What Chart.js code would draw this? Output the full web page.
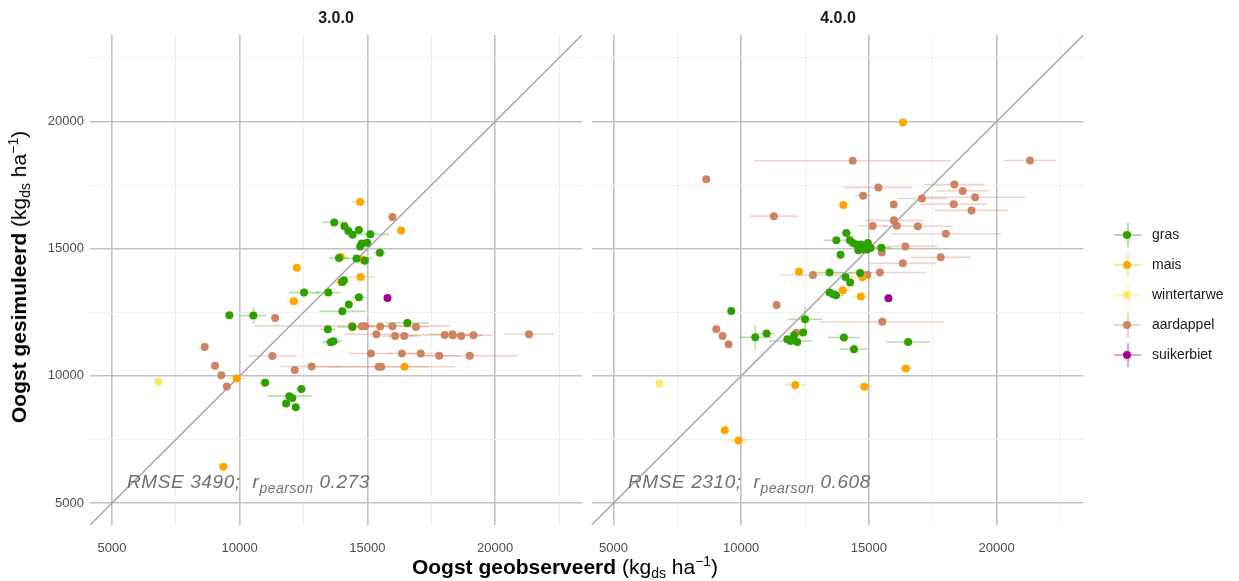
<!DOCTYPE html>
<html>
<head>
<meta charset="utf-8">
<script src="https://cdn.jsdelivr.net/npm/chart.js@4.4.1/dist/chart.umd.min.js"></script>
<style>
body{margin:0;background:#fff;font-family:"Liberation Sans",Arial,sans-serif;}
#wrap{position:relative;width:1239px;height:581px;overflow:hidden;}
canvas{position:absolute;left:0;top:0;}
.strip{position:absolute;top:9px;font-weight:bold;font-size:16px;color:#1a1a1a;transform:translateX(-50%);}
.stat{position:absolute;top:471px;font-style:italic;font-size:19px;color:#707070;letter-spacing:0.6px;white-space:nowrap;}
.stat sub{font-size:14px;vertical-align:-5px;letter-spacing:0.5px;}
.ytitle{position:absolute;left:19px;top:277px;transform:translate(-50%,-50%) rotate(-90deg);white-space:nowrap;font-size:21px;color:#000;}
.xtitle{position:absolute;left:565px;top:567px;transform:translate(-50%,-50%);white-space:nowrap;font-size:21px;color:#000;}
.ytitle b,.xtitle b{font-weight:bold;}
.ytitle sub,.xtitle sub{font-size:14px;vertical-align:-4px;}
.ytitle sup,.xtitle sup{font-size:14px;vertical-align:8px;}
.leg{position:absolute;left:1112px;height:24px;width:130px;}
.leg .h{position:absolute;left:2px;top:11px;width:27px;height:2px;}
.leg .v{position:absolute;left:14.5px;top:0;width:2px;height:24px;}
.leg .d{position:absolute;left:11px;top:8px;width:8px;height:8px;border-radius:50%;}
.leg span{position:absolute;left:40px;top:3px;font-size:14px;color:#1a1a1a;}
</style>
</head>
<body>
<div id="wrap">
  <canvas id="c300" width="1239" height="581"></canvas>
  <canvas id="c400" width="1239" height="581"></canvas>
  <div class="strip" style="left:336px">3.0.0</div>
  <div class="strip" style="left:838px">4.0.0</div>
  <div class="stat" style="left:127px">RMSE 3490;&nbsp; r<sub>pearson</sub> 0.273</div>
  <div class="stat" style="left:628px">RMSE 2310;&nbsp; r<sub>pearson</sub> 0.608</div>
  <div class="ytitle"><b>Oogst gesimuleerd</b> (kg<sub>ds</sub> ha<sup>−1</sup>)</div>
  <div class="xtitle"><b>Oogst geobserveerd</b> (kg<sub>ds</sub> ha<sup>−1</sup>)</div>
  <div id="legend"></div>
</div>
<script>
// [geobserveerd, gesimuleerd, xfout, yfout] per gewas en versie
const gras300 = [
  [13700,16035,470,0],[14100,15880,0,0],[14255,15695,0,0],[14420,15550,0,0],
  [14665,15740,0,0],[15115,15565,740,0],[14715,15090,0,0],[14775,15200,0,0],
  [14990,15230,0,0],[15485,14845,235,0],[13885,14635,390,0],[14575,14615,600,0],
  [14900,14530,0,0],[14080,13760,0,0],[14020,13690,0,0],[12520,13275,590,160],
  [13470,13275,490,0],[14665,13090,270,0],[14270,12805,0,0],[14020,12540,900,0],
  [9595,12385,0,0],[10535,12370,490,330],[16565,12080,850,160],[14415,11925,580,0],
  [13450,11835,290,0],[13565,11325,330,0],[13670,11365,330,0],[10995,9735,240,0],
  [12415,9490,200,0],[11945,9205,860,0],[12060,9135,0,0],[11815,8915,160,0],
  [12195,8770,0,0]
];
const mais300 = [
  [14715,16840,310,0],[16320,15720,0,0],[12235,14255,0,0],[13960,14670,0,0],
  [14805,14580,0,0],[14735,13885,550,0],[13980,13680,310,0],[12115,12935,270,0],
  [9885,9900,390,0],[16450,10360,200,0],[9360,6430,0,0]
];
const wintertarwe300 = [[6815,9780,0,0]];
const aardappel300 = [
  [15980,16245,0,0],[11385,12280,0,0],[14390,11965,3840,0],[14780,11950,470,0],
  [14910,11950,390,0],[15500,11940,590,0],[15980,11950,550,0],[16900,11925,470,0],
  [15350,11640,1250,0],[16085,11570,780,0],[16440,11570,590,0],[18025,11605,1500,0],
  [18330,11640,980,0],[18345,11600,0,0],[18670,11570,780,0],[19150,11600,740,0],
  [21325,11640,980,0],[8630,11140,0,0],[11280,10785,940,0],[15135,10880,860,0],
  [16350,10880,590,0],[17085,10880,700,0],[17810,10795,780,0],[19005,10795,1880,0],
  [9035,10395,0,0],[12155,10235,0,0],[12815,10370,1210,0],[15440,10360,1960,0],
  [15535,10360,2900,0],[9280,10030,0,0],[9495,9585,0,0]
];
const suikerbiet300 = [[15785,13060,0,0]];

const gras400 = [
  [14115,15615,200,0],[13725,15330,510,0],[14255,15330,0,0],[14375,15220,0,0],
  [14505,15170,0,0],[14675,15170,0,0],[14805,15065,0,0],[14960,15220,0,0],
  [14585,14935,0,0],[14715,14965,0,0],[14830,15000,0,0],[14935,14965,0,0],
  [15065,15025,0,0],[15485,15040,390,0],[13890,14765,0,0],[13460,14060,590,0],
  [14655,14045,470,0],[14085,13885,0,0],[14265,13670,0,0],[13460,13275,0,0],
  [13605,13210,0,0],[13710,13170,310,0],[9610,12550,0,0],[12500,12225,670,470],
  [10995,11665,310,0],[10550,11520,630,470],[12425,11705,0,0],[11805,11440,0,0],
  [11935,11375,860,0],[12070,11600,0,0],[12195,11335,0,0],[14020,11510,630,0],
  [14415,11050,550,200],[16535,11335,860,0]
];
const mais400 = [
  [16330,19960,0,0],[14000,16720,235,0],[12260,14090,0,0],[14745,13875,470,0],
  [13980,13365,310,0],[14685,13120,310,0],[16445,10290,235,0],[12115,9645,390,0],
  [14820,9575,310,0],[9355,7860,0,0],[9895,7465,390,0]
];
const wintertarwe400 = [[6800,9700,0,0]];
const aardappel400 = [
  [8630,17735,0,0],[14365,18455,3850,0],[21305,18470,1020,0],[11280,16280,940,0],
  [18345,17525,1180,0],[18670,17270,1020,0],[15370,17410,1330,0],[14775,17085,310,0],
  [17075,16975,980,0],[19160,17025,1960,0],[15970,16740,0,0],[18320,16750,1330,0],
  [19015,16505,1450,0],[15975,16115,1140,0],[15145,15895,590,0],[16095,15905,0,0],
  [16915,15885,1370,0],[18010,15590,2150,0],[16425,15090,1250,0],[15505,14850,0,0],
  [17810,14660,1180,0],[16330,14425,1290,0],[15430,14065,1800,0],[12805,13965,1250,0],
  [14935,13975,0,0],[11385,12790,0,0],[15525,12130,2430,0],[12155,11695,0,0],
  [9025,11835,0,0],[9270,11570,0,0],[9505,11245,0,0]
];
const suikerbiet400 = [[15765,13050,0,0]];

const gewassen = ['gras', 'mais', 'wintertarwe', 'aardappel', 'suikerbiet'];
const kleuren = ['#2ea100', '#ffa500', '#ffe866', '#cd8462', '#a0008c'];
const foutKleuren = ['rgba(46,161,0,0.35)', 'rgba(255,165,0,0.35)', 'rgba(255,232,102,0.45)', 'rgba(205,132,98,0.35)', 'rgba(160,0,140,0.35)'];
const tickWaarden = [5000, 7500, 10000, 12500, 15000, 17500, 20000, 22500];
const asMin = 4140, asMax = 23400;

const errorBars = {
  id: 'errorBars',
  beforeDatasetsDraw(chart) {
    const {ctx, chartArea: a, scales: {x, y}} = chart;
    ctx.save();
    ctx.beginPath();
    ctx.rect(a.left, a.top, a.right - a.left, a.bottom - a.top);
    ctx.clip();
    chart.data.datasets.forEach(ds => {
      if (!ds.errColor) return;
      ctx.strokeStyle = ds.errColor;
      ctx.lineWidth = 1.6;
      ds.data.forEach(p => {
        const px = x.getPixelForValue(p.x), py = y.getPixelForValue(p.y);
        ctx.beginPath();
        if (p.xerr) {
          ctx.moveTo(x.getPixelForValue(p.x - p.xerr), py);
          ctx.lineTo(x.getPixelForValue(p.x + p.xerr), py);
        }
        if (p.yerr) {
          ctx.moveTo(px, y.getPixelForValue(p.y - p.yerr));
          ctx.lineTo(px, y.getPixelForValue(p.y + p.yerr));
        }
        ctx.stroke();
      });
    });
    ctx.restore();
  }
};

function maakPunten(rijen) {
  return rijen.map(r => ({x: r[0], y: r[1], xerr: r[2], yerr: r[3]}));
}

function maakAs(as, breedte, labels) {
  return {
    type: 'linear',
    min: asMin,
    max: asMax,
    afterBuildTicks: s => { s.ticks = tickWaarden.map(v => ({value: v})); },
    afterFit: s => { if (as === 'x') s.height = breedte; else s.width = breedte; },
    border: {display: false},
    grid: {
      drawTicks: false,
      color: c => (c.tick && c.tick.value % 5000 === 0) ? '#c2c2c2' : '#f0f0f0',
      lineWidth: c => (c.tick && c.tick.value % 5000 === 0) ? 1.6 : 1
    },
    ticks: {
      display: labels,
      padding: as === 'x' ? 16 : 6,
      color: '#4d4d4d',
      font: {family: '"Liberation Sans", Arial, sans-serif', size: 13},
      callback: v => (v % 5000 === 0 ? String(v) : '')
    }
  };
}

function maakPaneel(id, series, links, rechts, yLabels) {
  const datasets = series.map((s, i) => ({
    label: gewassen[i],
    data: maakPunten(s),
    backgroundColor: kleuren[i],
    borderWidth: 0,
    pointRadius: 4,
    errColor: foutKleuren[i]
  }));
  datasets.push({
    label: '1:1',
    data: [{x: 0, y: 0}, {x: 30000, y: 30000}],
    showLine: true,
    borderColor: '#a6a6a6',
    borderWidth: 1.5,
    pointRadius: 0
  });
  return new Chart(document.getElementById(id), {
    type: 'scatter',
    data: {datasets: datasets},
    options: {
      responsive: false,
      animation: false,
      devicePixelRatio: 1,
      layout: {padding: {left: links, right: rechts, top: 35, bottom: 0}},
      plugins: {legend: {display: false}, tooltip: {enabled: false}},
      scales: {
        x: maakAs('x', 56, true),
        y: maakAs('y', yLabels ? 90 : 0, yLabels)
      }
    },
    plugins: [errorBars]
  });
}

maakPaneel('c300', [gras300, mais300, wintertarwe300, aardappel300, suikerbiet300], 0, 657, true);
maakPaneel('c400', [gras400, mais400, wintertarwe400, aardappel400, suikerbiet400], 591.5, 155.5, false);

// legenda
const legend = document.getElementById('legend');
gewassen.forEach((g, i) => {
  const el = document.createElement('div');
  el.className = 'leg';
  el.style.top = (223 + i * 30) + 'px';
  el.innerHTML = '<div class="h" style="background:' + foutKleuren[i] + '"></div>' +
    '<div class="v" style="background:' + foutKleuren[i] + '"></div>' +
    '<div class="d" style="background:' + kleuren[i] + '"></div>' +
    '<span>' + g + '</span>';
  legend.appendChild(el);
});
</script>
</body>
</html>
